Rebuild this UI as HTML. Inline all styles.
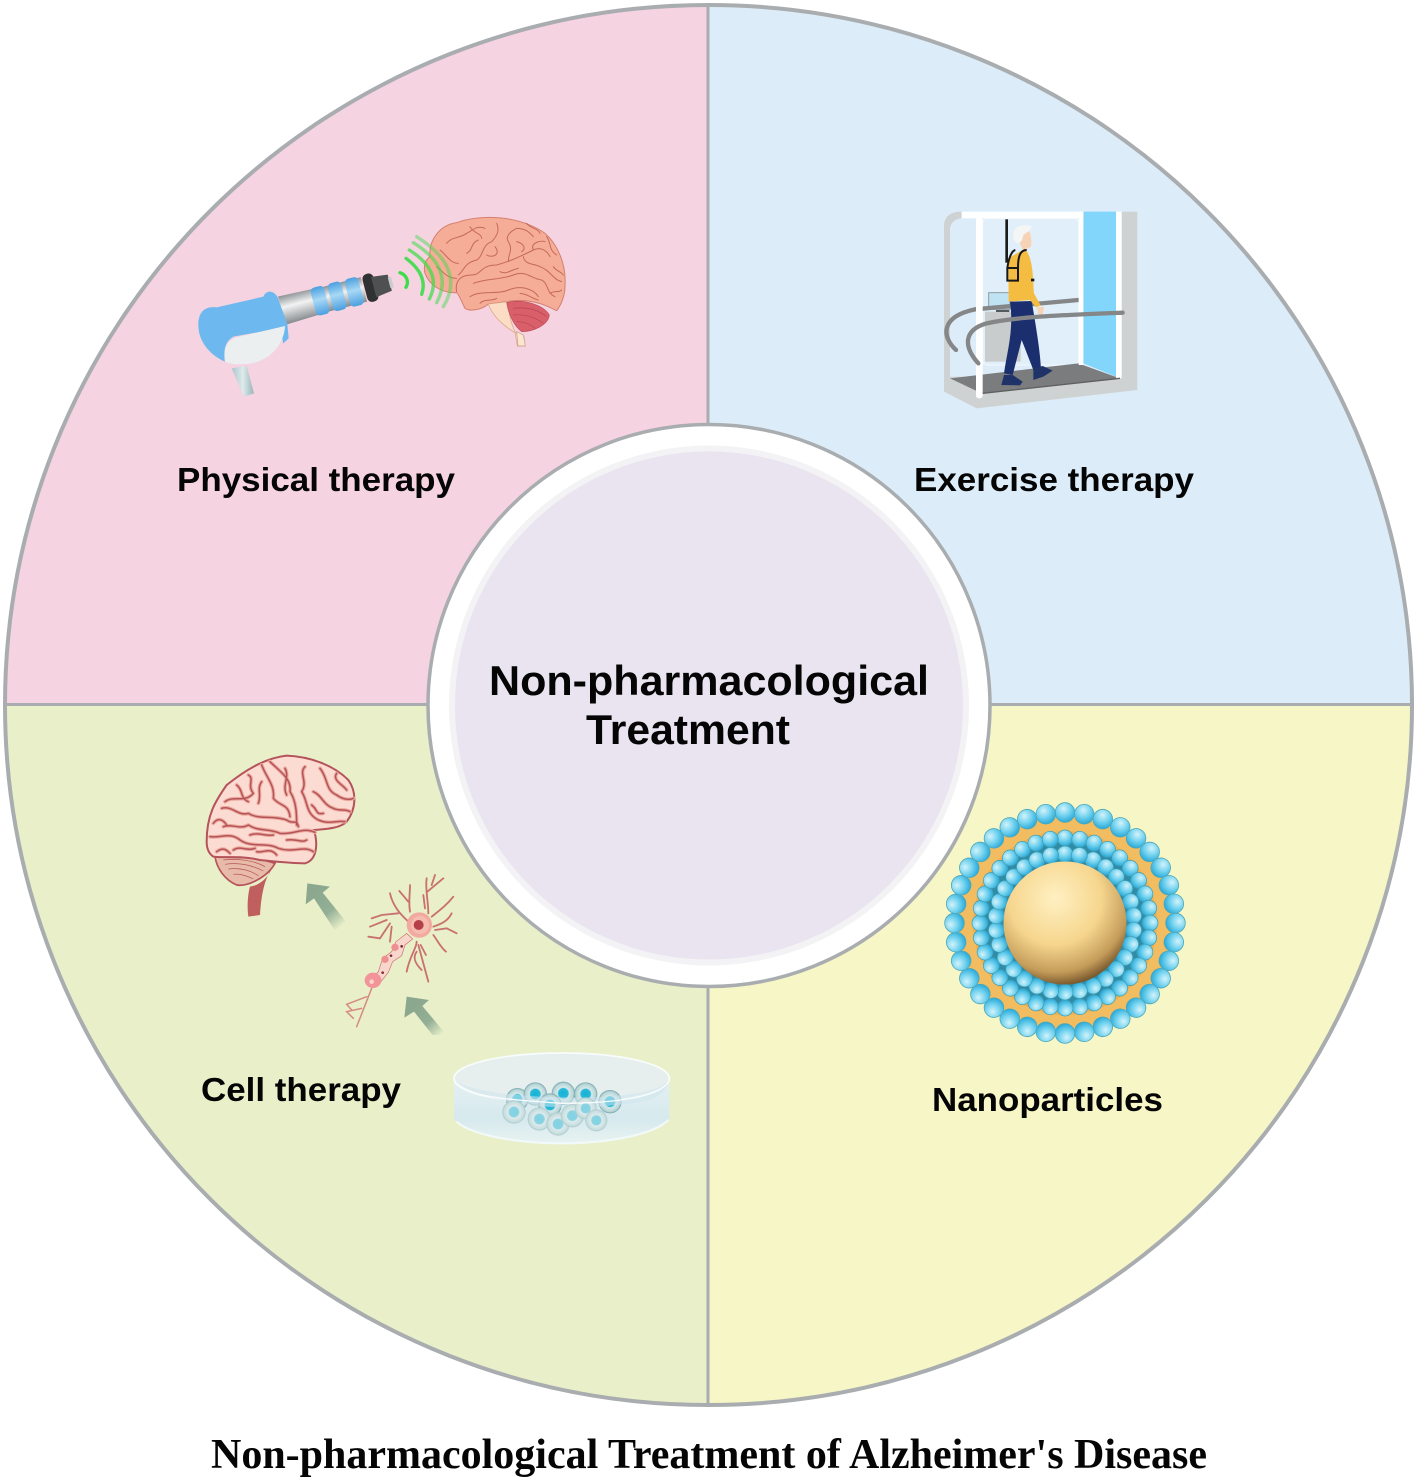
<!DOCTYPE html>
<html><head><meta charset="utf-8"><style>html,body{margin:0;padding:0;background:#fff}svg{display:block}
.l{font-family:"Liberation Sans",sans-serif;font-weight:bold;fill:#050505}</style></head><body>
<svg width="1417" height="1480" viewBox="0 0 1417 1480" xmlns="http://www.w3.org/2000/svg">
<defs>
<radialGradient id="bub" cx=".42" cy=".3" r=".75"><stop offset="0" stop-color="#d2f3fb"/><stop offset=".5" stop-color="#72d2ef"/><stop offset="1" stop-color="#1fa3d5"/></radialGradient>
<radialGradient id="core" cx=".42" cy=".3" r=".75"><stop offset="0" stop-color="#fff0c2"/><stop offset=".5" stop-color="#f6d68e"/><stop offset=".8" stop-color="#c49c5a"/><stop offset="1" stop-color="#5d3f1c"/></radialGradient>
<linearGradient id="sil" x1="0" y1="0" x2="0" y2="1"><stop offset="0" stop-color="#8e9396"/><stop offset=".4" stop-color="#f2f3f3"/><stop offset="1" stop-color="#858a8d"/></linearGradient>
<linearGradient id="blu" x1="0" y1="0" x2="0" y2="1"><stop offset="0" stop-color="#4a9fe0"/><stop offset=".45" stop-color="#a8d8f5"/><stop offset="1" stop-color="#4a9fe0"/></linearGradient>
<linearGradient id="noz" x1="0" y1="0" x2="1" y2="0"><stop offset="0" stop-color="#a9c6cc"/><stop offset=".5" stop-color="#dfeaec"/><stop offset="1" stop-color="#98b5bb"/></linearGradient>
<linearGradient id="ar1" gradientUnits="userSpaceOnUse" x1="370" y1="445" x2="455" y2="545"><stop offset="0" stop-color="#8ba88f"/><stop offset=".55" stop-color="#93af96"/><stop offset="1" stop-color="#e9f0c9"/></linearGradient>
<linearGradient id="ar2" gradientUnits="userSpaceOnUse" x1="670" y1="785" x2="755" y2="870"><stop offset="0" stop-color="#8ba88f"/><stop offset=".55" stop-color="#93af96"/><stop offset="1" stop-color="#e9f0c9"/></linearGradient>
<radialGradient id="cellA"><stop offset="0" stop-color="#12b3d6"/><stop offset=".42" stop-color="#2cb8d8"/><stop offset=".5" stop-color="#d5e9ea"/><stop offset=".85" stop-color="#b9d5d6"/><stop offset="1" stop-color="#6fa3ab"/></radialGradient>
<radialGradient id="cellB"><stop offset="0" stop-color="#7fd3e4"/><stop offset=".42" stop-color="#8bd3e2"/><stop offset=".5" stop-color="#dcebec"/><stop offset=".85" stop-color="#c9dedf"/><stop offset="1" stop-color="#a9c8cb"/></radialGradient>
<linearGradient id="dish" x1="0" y1="0" x2="0" y2="1"><stop offset="0" stop-color="#e6f1f2"/><stop offset=".6" stop-color="#d6e9ee"/><stop offset="1" stop-color="#e8f3f1"/></linearGradient>
<circle id="b1" cx="1065" cy="812.5" r="9.8" fill="url(#bub)" stroke="#4da7b8" stroke-width=".8"/>
<circle id="b2" cx="1065" cy="838" r="8" fill="url(#bub)" stroke="#3f9db3" stroke-width=".7"/>
<circle id="b3" cx="1065" cy="854" r="8" fill="url(#bub)" stroke="#3f9db3" stroke-width=".7"/>
<g id="r1"><use href="#b1"/><use href="#b1" transform="rotate(10 1065 923)"/><use href="#b1" transform="rotate(20 1065 923)"/><use href="#b1" transform="rotate(30 1065 923)"/><use href="#b1" transform="rotate(40 1065 923)"/><use href="#b1" transform="rotate(50 1065 923)"/><use href="#b1" transform="rotate(60 1065 923)"/><use href="#b1" transform="rotate(70 1065 923)"/><use href="#b1" transform="rotate(80 1065 923)"/></g>
<g id="r2"><use href="#b2"/><use href="#b2" transform="rotate(10 1065 923)"/><use href="#b2" transform="rotate(20 1065 923)"/><use href="#b2" transform="rotate(30 1065 923)"/><use href="#b2" transform="rotate(40 1065 923)"/><use href="#b2" transform="rotate(50 1065 923)"/><use href="#b2" transform="rotate(60 1065 923)"/><use href="#b2" transform="rotate(70 1065 923)"/><use href="#b2" transform="rotate(80 1065 923)"/></g>
<g id="r3"><use href="#b3"/><use href="#b3" transform="rotate(12 1065 923)"/><use href="#b3" transform="rotate(24 1065 923)"/><use href="#b3" transform="rotate(36 1065 923)"/><use href="#b3" transform="rotate(48 1065 923)"/><use href="#b3" transform="rotate(60 1065 923)"/><use href="#b3" transform="rotate(72 1065 923)"/><use href="#b3" transform="rotate(84 1065 923)"/></g>
<g id="cf">
<path d="M60 275C90 280 120 260 150 285C185 310 230 290 265 310C310 325 340 300 370 320"/>
<path d="M100 245C125 235 150 255 175 240C205 260 240 250 270 265C310 270 340 245 375 262"/>
<path d="M95 190C125 180 145 215 175 205C205 225 250 210 290 225C310 240 320 220 325 245"/>
<path d="M215 60C230 100 255 120 250 160C270 185 295 175 300 215"/>
<path d="M105 170C130 150 165 175 190 145C170 120 195 100 175 90M240 50C270 80 305 100 300 140C320 170 320 210 320 240"/>
<path d="M345 65C325 85 355 110 335 140C355 170 345 205 385 225C420 240 440 225 465 230"/>
<path d="M390 70C415 100 405 135 440 150C460 165 480 165 490 160M370 140C395 150 400 180 430 190"/>
<path d="M80 320C100 305 110 315 120 325M200 320C220 325 240 305 260 330"/>
<path d="M70 235C85 215 100 225 110 240M140 120C160 135 150 160 175 170M215 110C200 130 215 150 205 175"/>
<path d="M285 70C300 95 275 120 290 150M440 85C425 105 460 120 470 135M365 180C385 195 375 210 400 205M430 190C450 200 465 190 480 200"/>
<path d="M290 285C320 280 335 295 350 285M180 270C210 260 225 275 250 270M130 315C150 300 170 320 195 310"/>
</g>
</defs>

<!-- quadrants -->
<path d="M708 704.5V5A703.5 700 0 0 0 5 704.5Z" fill="#f5d3e0"/>
<path d="M708 704.5V5A703.5 700 0 0 1 1412 704.5Z" fill="#dcedf9"/>
<path d="M708 704.5V1405A703.5 700 0 0 1 5 704.5Z" fill="#e9f0c9"/>
<path d="M708 704.5V1405A703.5 700 0 0 0 1412 704.5Z" fill="#f6f6c6"/>
<ellipse cx="708.5" cy="705" rx="703.5" ry="700" fill="none" stroke="#a9adaf" stroke-width="4"/>
<path d="M708 5V1405M5 704.5H1412" stroke="#a9adaf" stroke-width="3" fill="none"/>
<circle cx="709" cy="705.5" r="281" fill="#fff" stroke="#a9adaf" stroke-width="3.5"/>
<circle cx="709" cy="705.5" r="260" fill="#f3f2f4"/>
<circle cx="709" cy="705.5" r="254" fill="#e9e4ef"/>

<!-- labels -->
<text class="l" x="177" y="491" font-size="33" textLength="278" lengthAdjust="spacingAndGlyphs">Physical therapy</text>
<text class="l" x="914" y="491" font-size="33" textLength="280" lengthAdjust="spacingAndGlyphs">Exercise therapy</text>
<text class="l" x="201" y="1101" font-size="33" textLength="200" lengthAdjust="spacingAndGlyphs">Cell therapy</text>
<text class="l" x="932" y="1111" font-size="33" textLength="231" lengthAdjust="spacingAndGlyphs">Nanoparticles</text>
<text class="l" x="489" y="695" font-size="42" textLength="440" lengthAdjust="spacingAndGlyphs">Non-pharmacological</text>
<text class="l" x="586" y="744" font-size="42" textLength="204" lengthAdjust="spacingAndGlyphs">Treatment</text>
<text x="211" y="1468" font-family="'Liberation Serif',serif" font-weight="bold" font-size="42" fill="#050505" textLength="996" lengthAdjust="spacingAndGlyphs">Non-pharmacological Treatment of Alzheimer's Disease</text>

<!-- physical therapy -->
<g transform="translate(180 200) scale(.33333)">
<path d="M155 505L200 497L222 580L192 590Z" fill="url(#noz)"/>
<g transform="translate(305 332) rotate(-14.5)">
<path d="M0 -44L105 -40V40L0 44Z" fill="url(#sil)"/>
<rect x="100" y="-38" width="155" height="76" fill="url(#sil)"/>
<rect x="98" y="-43" width="42" height="86" rx="13" fill="url(#blu)"/>
<rect x="151" y="-43" width="42" height="86" rx="13" fill="url(#blu)"/>
<rect x="204" y="-43" width="42" height="86" rx="13" fill="url(#blu)"/>
<rect x="258" y="-43" width="34" height="86" rx="15" fill="#303132"/>
<path d="M285 -31L335 -25V25L285 32Z" fill="#4f5052"/>
<rect x="333" y="-16" width="10" height="32" fill="#c9cbcc"/>
</g>
<path d="M55 375C55 335 75 318 110 322L250 290C258 270 280 270 292 290L322 372L326 415L310 430L300 385L160 410C135 425 130 450 135 485C90 465 55 425 55 375Z" fill="#6db8ee"/>
<path d="M135 485C128 440 145 420 170 412L315 378C312 440 260 490 195 492C170 495 150 492 135 485Z" fill="#eceff0"/>
<path d="M750 170C745 120 780 75 830 68C880 50 930 50 975 55C1020 62 1060 75 1095 100C1130 130 1160 190 1155 260C1155 290 1140 320 1130 332L1105 320C1070 305 1030 295 980 305L925 312C905 330 870 335 855 325C845 305 835 280 830 278C790 280 750 260 735 220C730 200 735 180 750 170Z" fill="#f5ad98" stroke="#d4806e" stroke-width="3"/>
<g fill="none" stroke="#c46a58" stroke-width="3" stroke-linecap="round">
<path d="M830 275C825 250 835 225 875 225C905 225 900 195 950 195C985 185 1010 175 1060 150C1080 140 1100 150 1110 170"/>
<path d="M835 225C855 210 850 190 890 180C910 170 905 135 935 125C950 110 960 90 950 70"/>
<path d="M800 130C815 110 840 115 860 100C880 90 890 75 915 85"/>
<path d="M780 150C800 165 810 190 835 190M860 160C880 150 870 130 895 120"/>
<path d="M985 185C985 160 1000 150 985 125C975 110 990 95 1010 85C1040 85 1050 100 1060 110"/>
<path d="M1060 150C1050 130 1080 120 1095 125M1030 170C1035 195 1060 190 1080 200C1110 210 1120 240 1145 245"/>
<path d="M880 250C920 235 960 240 1000 225C1040 210 1050 235 1085 240C1105 250 1100 280 1125 290"/>
<path d="M870 290C900 270 950 285 985 270C1020 255 1060 265 1075 290"/>
<path d="M945 140C965 165 935 175 920 165M1010 125C1030 130 1040 145 1025 155M1110 280C1125 270 1135 280 1145 270"/>
<path d="M770 200C790 215 800 235 830 235M1100 110C1115 130 1105 150 1130 165M1040 70C1050 85 1075 85 1080 100M870 80C880 100 905 100 905 115"/>
<path d="M960 215C980 225 990 210 1015 205M900 310C915 295 935 305 950 295M1020 280C1040 280 1055 295 1075 300M1120 200C1130 215 1145 215 1150 225"/>
</g>
<path d="M925 312L985 305C985 340 995 375 1005 395L1012 438H1035L1032 410L1000 395C960 370 935 340 925 312Z" fill="#fbdcc5" stroke="#d9a184" stroke-width="2"/>
<path d="M1010 395L1014 438H1036L1030 405Z" fill="#fbe6d2" stroke="#c99a80" stroke-width="2"/>
<path d="M980 308C1030 295 1090 315 1108 345C1105 375 1060 395 1025 395C1000 375 985 340 980 308Z" fill="#d9606a" stroke="#bd4b55" stroke-width="2"/>
<g fill="none" stroke="#b5444e" stroke-width="2"><path d="M1000 325C1040 320 1075 330 1100 350M1000 345C1040 342 1070 355 1090 370M1010 365C1035 365 1055 375 1065 385"/></g>
<g fill="none" stroke-linecap="round" stroke-width="10" stroke="#3cdc4a">
<path d="M660 218C680 225 688 245 678 262"/>
<path d="M678 175Q745 225 725 283" opacity=".9"/>
<path d="M688 150Q790 215 748 297" opacity=".72"/>
<path d="M700 128Q825 205 770 308" opacity=".55"/>
<path d="M710 110Q860 205 790 320" opacity=".45"/>
</g>
</g>

<!-- exercise therapy -->
<g transform="translate(930 200) scale(.33333)">
<path d="M42 530L42 575L140 625L622 570V35H575V530Z" fill="#cfd2d3"/>
<path d="M95 35C60 35 42 50 42 80V540H60V90C60 70 75 55 95 55Z" fill="#cfd2d3"/>
<rect x="158" y="55" width="288" height="440" rx="14" fill="#e0effa" stroke="#f3f8fc" stroke-width="3"/>
<path d="M60 535L445 490L570 535L155 580Z" fill="#7b7c7d"/>
<path d="M460 35H558V530L460 490Z" fill="#83d6fb"/>
<rect x="165" y="335" width="107" height="150" fill="#c9cccd"/>
<rect x="176" y="278" width="64" height="50" fill="#bfe3f3" stroke="#8e9a9f" stroke-width="3"/>
<rect x="198" y="330" width="40" height="6" fill="#55595b"/>
<path d="M78 450C35 410 30 350 135 328L445 300" fill="none" stroke="#858687" stroke-width="13" stroke-linecap="round"/>
<rect x="446" y="35" width="14" height="460" fill="#fff"/>
<rect x="558" y="35" width="17" height="500" fill="#fff"/>
<rect x="95" y="35" width="365" height="20" fill="#fff"/>
<rect x="138" y="50" width="20" height="545" rx="8" fill="#fff"/>
<rect x="226" y="58" width="8" height="130" fill="#1b1b1b"/>
<path d="M158 580L570 535" stroke="#5f6061" stroke-width="4"/>
<path d="M240 305L305 303C318 380 330 450 333 505L310 510L275 420L248 525L222 520C232 450 252 390 240 305Z" fill="#1b2f6e"/>
<path d="M310 505L338 498L368 512L340 530L310 540Z" fill="#1f3368"/>
<path d="M222 525L248 525L278 545L270 556L214 555Z" fill="#1f3368"/>
<path d="M282 85C302 88 306 110 303 140L280 152L270 130Z" fill="#f7d3b5"/>
<path d="M250 100C252 80 275 70 305 78C305 92 290 96 280 105C278 120 272 130 262 130C252 125 248 112 250 100Z" fill="#f4f5f5"/>
<path d="M235 175L285 146C312 180 308 240 312 280L332 316L318 322L300 300L236 305Z" fill="#f5bc42"/>
<path d="M320 322L342 320L338 345L325 342Z" fill="#f7d3b5"/>
<path d="M232 204V242H264V204ZM232 204C236 175 245 152 256 150M264 204C264 175 268 150 290 150" fill="none" stroke="#17181a" stroke-width="6"/>
<rect x="303" y="236" width="10" height="8" fill="#17181a"/>
<path d="M145 490C100 440 100 390 170 370C260 350 400 345 578 338" fill="none" stroke="#858687" stroke-width="13" stroke-linecap="round"/>
</g>

<!-- nanoparticle -->
<circle cx="1065" cy="923" r="106" fill="#f2bd60"/>
<circle cx="1065" cy="923" r="92" fill="#ecaf52"/>
<circle cx="1065" cy="923" r="87" fill="#2f8ba6"/>
<use href="#r1"/><use href="#r1" transform="rotate(90 1065 923)"/><use href="#r1" transform="rotate(180 1065 923)"/><use href="#r1" transform="rotate(270 1065 923)"/>
<use href="#r2"/><use href="#r2" transform="rotate(90 1065 923)"/><use href="#r2" transform="rotate(180 1065 923)"/><use href="#r2" transform="rotate(270 1065 923)"/>
<use href="#r3"/><use href="#r3" transform="rotate(96 1065 923)"/><use href="#r3" transform="rotate(192 1065 923)"/><use href="#r3" transform="rotate(288 1065 923)"/>
<use href="#b3" transform="rotate(348 1065 923)"/>
<circle cx="1065" cy="923" r="61.5" fill="url(#core)"/>

<!-- cell therapy -->
<g transform="translate(190 745) scale(.33333)">
<path d="M75 335C110 340 180 330 255 355C230 400 170 425 140 420C105 405 80 370 75 335Z" fill="#e8bba9" stroke="#b5535a" stroke-width="5"/>
<g fill="none" stroke="#b5535a" stroke-width="2"><path d="M100 345C140 340 190 345 225 365M105 358C145 352 185 360 220 378M115 372C150 368 180 375 205 392M130 388C150 385 170 392 190 402"/></g>
<path d="M250 360C230 395 215 425 210 510L175 515C170 480 175 440 180 425C215 420 240 390 250 360Z" fill="#bf5f5e"/>
<path d="M50 290C50 210 75 170 110 120C160 80 220 40 290 32C360 35 430 60 475 105C500 140 500 190 470 230C450 250 410 252 372 255C385 300 380 345 345 355C300 355 260 350 210 345C150 330 100 340 70 335C55 325 50 310 50 290Z" fill="#fcdcd2" stroke="#b5535a" stroke-width="6"/>
<g fill="none" stroke-linecap="round" stroke-linejoin="round">
<use href="#cf" stroke="#eba99d" stroke-width="11"/>
<use href="#cf" stroke="#b5535a" stroke-width="4.5"/>
</g>
<path d="M352 415L420 425L398 443L468 530C450 545 440 555 434 555L372 460L347 478Z" fill="url(#ar1)"/>
<path d="M650 755L717 765L697 783L770 870H728L672 800L643 818Z" fill="url(#ar2)"/>
<g fill="none" stroke="#c9716e" stroke-linecap="round" stroke-width="5.5">
<path d="M655 530C640 515 610 490 600 445M625 505L575 510L545 520M590 525L540 545M600 535L570 580L535 575M605 545L600 590"/>
<path d="M660 500C655 470 660 450 660 420M655 470L628 438"/>
<path d="M715 505C715 470 705 430 710 400M712 440L760 400M725 420L735 390M705 490L700 450"/>
<path d="M725 515C750 495 770 480 790 455M730 545C760 535 775 525 785 505M735 555L770 550L800 565M730 570C745 590 750 605 768 620"/>
<path d="M680 590C680 610 660 630 650 680M685 600L715 710M680 620C665 640 680 660 695 675M692 600L708 630"/>
<path d="M545 730L500 845M530 755L470 778L485 795M515 790L470 800L490 820" stroke-width="4.5" stroke="#d68a80"/>
</g>
<path d="M650 565L618 590L605 620L578 640L565 680L545 700L565 720L595 682L608 650L635 632L645 600L668 582Z" fill="#f9d6cb" stroke="#c9716e" stroke-width="2"/>
<circle cx="688" cy="540" r="38" fill="#f2a99f"/>
<circle cx="690" cy="540" r="27" fill="#f6bcb0"/>
<circle cx="686" cy="540" r="15" fill="#b4414a"/>
<circle cx="615" cy="607" r="11" fill="#ef8f92"/><circle cx="585" cy="643" r="11" fill="#ef8f92"/>
<ellipse cx="549" cy="706" rx="25" ry="23" fill="#f29499"/>
<circle cx="545" cy="710" r="7" fill="#f8d5cb"/>
<circle cx="635" cy="604" r="4" fill="#7b2a32"/><circle cx="603" cy="632" r="4" fill="#7b2a32"/><circle cx="578" cy="683" r="4" fill="#7b2a32"/>
</g>

<!-- dish -->
<g transform="translate(440 1040) scale(.33333)">
<path d="M42 115V235C70 280 200 313 365 313C530 313 660 280 688 235V115Z" fill="url(#dish)"/>
<ellipse cx="365" cy="115" rx="323" ry="76" fill="#e6eeee" stroke="#f8fcfc" stroke-width="5"/>
<circle cx="232" cy="178" r="34" fill="url(#cellA)"/>
<circle cx="286" cy="162" r="35" fill="url(#cellA)"/>
<circle cx="370" cy="160" r="35" fill="url(#cellA)"/>
<circle cx="437" cy="162" r="35" fill="url(#cellA)"/>
<circle cx="510" cy="185" r="35" fill="url(#cellA)"/>
<circle cx="330" cy="195" r="35" fill="url(#cellA)"/>
<path d="M45 120C100 180 640 200 685 120C680 180 600 190 520 195C400 215 130 200 45 120Z" fill="#cfe6ee" opacity=".55"/>
<circle cx="222" cy="216" r="35" fill="url(#cellB)"/>
<circle cx="298" cy="237" r="35" fill="url(#cellB)"/>
<circle cx="354" cy="252" r="35" fill="url(#cellB)"/>
<circle cx="397" cy="227" r="35" fill="url(#cellB)"/>
<circle cx="437" cy="205" r="33" fill="url(#cellB)"/>
<circle cx="469" cy="241" r="33" fill="url(#cellB)"/>
<path d="M45 125C80 170 190 178 365 190C530 190 660 170 685 125" fill="none" stroke="#f8fcfc" stroke-width="4"/>
<path d="M50 245C100 290 250 310 365 310C500 310 640 285 685 240" fill="none" stroke="#f2f9f9" stroke-width="6"/>
</g>
</svg>
</body></html>
